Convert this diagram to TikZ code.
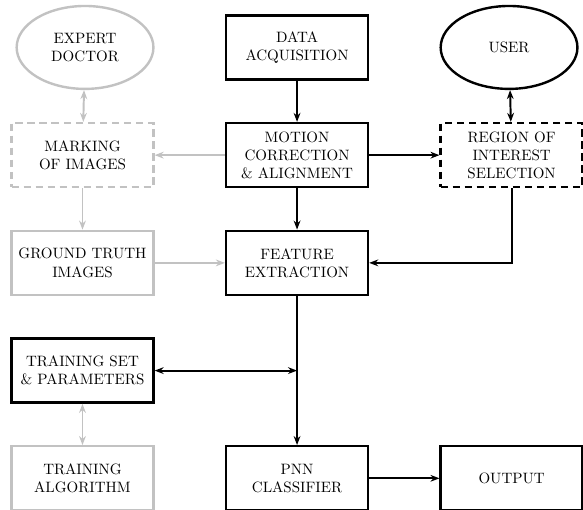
\documentclass[tikz,border=0pt]{standalone}
\usepackage{tikz}
\usetikzlibrary{arrows.meta}
\usetikzlibrary{positioning}
\usetikzlibrary{shapes.geometric}
\definecolor{lightgrey}{gray}{0.76}
\tikzset{>={Stealth[length=6pt,width=4.5pt]}}
\tikzset{basic block/.style={draw,
                             rectangle,
                             align=center,
                             minimum width=3.32cm,
                             minimum height=1.5cm,
                             line width=1.6pt}}
\tikzset{block/.style={basic block}}
\tikzset{grey block/.style={basic block,draw=lightgrey}}
\tikzset{person/.style={draw,ellipse,align=center,
                        minimum width=3.2cm,
                        minimum height=1.94cm,
                        line width=1.6pt}}
\tikzset{link/.style={draw,line width=1.3pt,->}}
\tikzset{grey link/.style={link,draw=lightgrey}}

\begin{document}
\begin{tikzpicture}
      [
      node distance=0.964cm and 1.644cm,
      ]
      \useasboundingbox (-6.95,-10.82) rectangle (6.69,1.11);

      % middle column
      \node [block] (acq) at (0,0) {DATA\\ACQUISITION};
      \node [block,below=of acq] (mot) {MOTION\\CORRECTION\\\& ALIGNMENT};
      \node [block,below=of mot] (feat) {FEATURE\\EXTRACTION};

      % left column
      \node [person,draw=lightgrey,left=of acq] (doc) {EXPERT\\DOCTOR};
      \node [grey block,dashed,dash pattern=on 5pt off 3pt,left=of mot] (mark) {MARKING\\OF IMAGES};
      \node [grey block,left=of feat] (truth) {GROUND TRUTH\\IMAGES};
      \node [block,below=of truth] (train) {TRAINING SET\\\& PARAMETERS};
      \node [grey block,below=of train] (algo) {TRAINING\\ALGORITHM};

      % right column
      \node [person,right=of acq] (user) {USER};
      \node [block,dashed,dash pattern=on 5pt off 3pt,right=of mot] (roi) {REGION OF\\INTEREST\\SELECTION};
      \node [block,right=of algo] (pnn) {PNN\\CLASSIFIER};
      \node [block,right=of pnn] (out) {OUTPUT};

      % edges
      \foreach \a/\b in {acq/mot,mot/feat,mot/roi,feat/pnn,pnn/out}
      {
      \draw [link] (\a) -- (\b);
      }
      \foreach \a/\b in {mot/mark,mark/truth,truth/feat}
      {
      \draw [grey link] (\a) -- (\b);
      }
      \draw [link,<->] (user) -- (roi);
      \draw [grey link,<->] (doc) -- (mark);
      \draw [grey link,<->] (train) -- (algo);
      \draw [link] (roi.south) |- (feat.east);

      \coordinate (join) at (feat.south |- train.east);
      \draw [link,<->] (train.east) -- (join);

    \end{tikzpicture}
\end{document}
